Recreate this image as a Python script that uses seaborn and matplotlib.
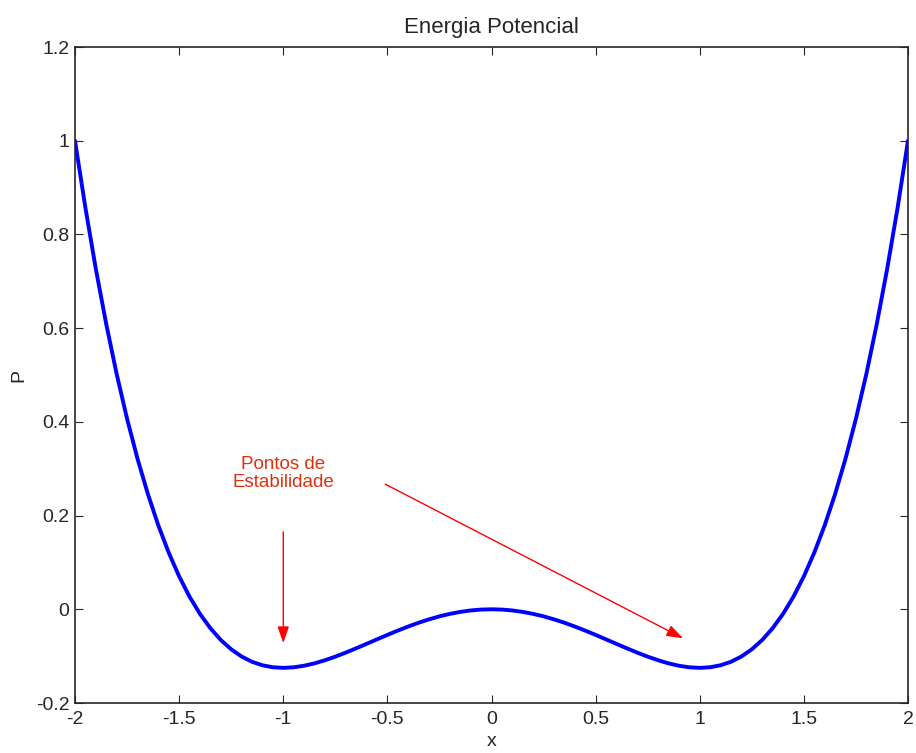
import numpy as np
import pandas as pd
import matplotlib
matplotlib.use("Agg")
import matplotlib.pyplot as plt
import seaborn as sns

# valores (curva de energia potencial), passo 0.05
x_vals = [-2.0, -1.95, -1.9, -1.85, -1.8, -1.75, -1.7, -1.65, -1.6, -1.55,
          -1.5, -1.45, -1.4, -1.35, -1.3, -1.25, -1.2, -1.15, -1.1, -1.05,
          -1.0, -0.95, -0.9, -0.85, -0.8, -0.75, -0.7, -0.65, -0.6, -0.55,
          -0.5, -0.45, -0.4, -0.35, -0.3, -0.25, -0.2, -0.15, -0.1, -0.05,
          0.0,
          0.05, 0.1, 0.15, 0.2, 0.25, 0.3, 0.35, 0.4, 0.45, 0.5,
          0.55, 0.6, 0.65, 0.7, 0.75, 0.8, 0.85, 0.9, 0.95, 1.0,
          1.05, 1.1, 1.15, 1.2, 1.25, 1.3, 1.35, 1.4, 1.45, 1.5,
          1.55, 1.6, 1.65, 1.7, 1.75, 1.8, 1.85, 1.9, 1.95, 2.0]
p_vals = [1.0, 0.8568, 0.7265, 0.6086, 0.5022, 0.4067, 0.3215, 0.2459, 0.1792, 0.1209,
          0.0703, 0.0269, -0.0098, -0.0404, -0.0655, -0.0854, -0.1008, -0.1120, -0.1195, -0.1237,
          -0.125, -0.1238, -0.1205, -0.1154, -0.1088, -0.1011, -0.0925, -0.0833, -0.0738, -0.0642,
          -0.0547, -0.0455, -0.0368, -0.0287, -0.0215, -0.0151, -0.0098, -0.0056, -0.0025, -0.0006,
          0.0,
          -0.0006, -0.0025, -0.0056, -0.0098, -0.0151, -0.0215, -0.0287, -0.0368, -0.0455, -0.0547,
          -0.0642, -0.0738, -0.0833, -0.0925, -0.1011, -0.1088, -0.1154, -0.1205, -0.1238, -0.125,
          -0.1237, -0.1195, -0.1120, -0.1008, -0.0854, -0.0655, -0.0404, -0.0098, 0.0269, 0.0703,
          0.1209, 0.1792, 0.2459, 0.3215, 0.4067, 0.5022, 0.6086, 0.7265, 0.8568, 1.0]

x_ticks = [-2, -1.5, -1, -0.5, 0, 0.5, 1, 1.5, 2]
x_labels = ["-2", "-1.5", "-1", "-0.5", "0", "0.5", "1", "1.5", "2"]
y_ticks = [-0.2, 0, 0.2, 0.4, 0.6, 0.8, 1, 1.2]
y_labels = ["-0.2", "0", "0.2", "0.4", "0.6", "0.8", "1", "1.2"]

df = pd.DataFrame({"x": x_vals, "P": p_vals})

sns.set_style("ticks")
plt.rcParams["font.family"] = ["Liberation Sans", "DejaVu Sans"]
plt.rcParams["xtick.direction"] = "in"
plt.rcParams["ytick.direction"] = "in"

fig = plt.figure(figsize=(9.16, 7.53), dpi=100)
ax = fig.add_axes([75 / 916, 50 / 753, 833 / 916, 656 / 753])

sns.lineplot(data=df, x="x", y="P", ax=ax, color="#0000ff", linewidth=2.8)

ax.set_xlim(-2, 2)
ax.set_ylim(-0.2, 1.2)
ax.set_xticks(x_ticks)
ax.set_xticklabels(x_labels)
ax.set_yticks(y_ticks)
ax.set_yticklabels(y_labels)
ax.tick_params(top=True, right=True, labelsize=14, length=6, width=0.8, pad=4)
ax.tick_params(axis="x", pad=6)
for s in ax.spines.values():
    s.set_linewidth(1.2)
    s.set_visible(True)

ax.set_title("Energia Potencial", fontsize=16, pad=10)
ax.set_xlabel("x", fontsize=14, labelpad=3)
ax.set_ylabel("P", fontsize=14, labelpad=6)

# anotacao
ax.text(-1.0, 0.29, "Pontos de\nEstabilidade", color="#e03010", fontsize=13.5,
        ha="center", va="center", linespacing=1.1)
ax.annotate("", xy=(-1.0, -0.072), xytext=(-1.0, 0.165),
            arrowprops=dict(arrowstyle="-|>,head_length=1.0,head_width=0.35",
                            color="red", lw=1, shrinkA=0, shrinkB=0))
ax.annotate("", xy=(0.92, -0.062), xytext=(-0.51, 0.267),
            arrowprops=dict(arrowstyle="-|>,head_length=1.0,head_width=0.35",
                            color="red", lw=1, shrinkA=0, shrinkB=0))

fig.savefig("out.png", dpi=100)
